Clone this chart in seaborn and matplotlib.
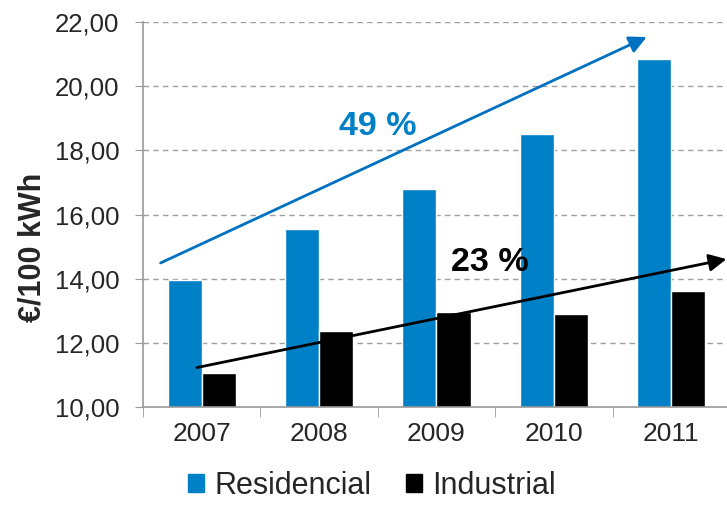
import matplotlib
matplotlib.use("Agg")
import matplotlib.pyplot as plt
import matplotlib.ticker as mticker
import seaborn as sns
import pandas as pd

# data
years = ["2007", "2008", "2009", "2010", "2011"]
residencial = [13.97, 15.56, 16.80, 18.50, 20.85]
industrial = [11.06, 12.37, 12.97, 12.90, 13.62]
series_names = ["Residencial", "Industrial"]
colors = ["#0080C6", "#000000"]
y_ticks = [10, 12, 14, 16, 18, 20, 22]

# trend arrows (data coords) and their labels
blue_arrow = [(-0.35, 14.49), (3.79, 21.53)]
black_arrow = [(-0.04, 11.23), (4.47, 14.61)]
blue_label = (1.5, 18.73, "49 %")
black_label = (2.45, 14.49, "23 %")

df = pd.DataFrame({
    "Ano": years * 2,
    "Valor": residencial + industrial,
    "Tipo": [series_names[0]] * len(years) + [series_names[1]] * len(years),
})

sns.set_style("white")
plt.rcParams["font.family"] = ["Liberation Sans", "DejaVu Sans"]

fig = plt.figure(figsize=(7.27, 5.05), dpi=100)
ax = fig.add_axes([143 / 727, 1 - 407 / 505, 587 / 727, 385 / 505])

sns.barplot(data=df, x="Ano", y="Valor", hue="Tipo", palette=colors,
            width=0.58, saturation=1, ax=ax, legend=False)

ax.set_ylim(10, 22)
ax.set_xlim(-0.5, 4.5)
ax.set_yticks(y_ticks)
ax.yaxis.set_major_formatter(mticker.FuncFormatter(lambda v, p: f"{v:.2f}".replace(".", ",")))
ax.set_xlabel("")
ax.set_ylabel("€/100 kWh", fontsize=22, fontweight="bold", va="center")
ax.yaxis.set_label_coords(-111 / 587, 0.415)

# dashed grid, gray left/bottom spines
for t in y_ticks[1:]:
    ax.axhline(t, color="#A0A0A0", linestyle=(0, (4, 3)), linewidth=1, zorder=0)
for side in ["top", "right"]:
    ax.spines[side].set_visible(False)
for side in ["left", "bottom"]:
    ax.spines[side].set_color("#999999")
    ax.spines[side].set_linewidth(1.2)

ax.tick_params(axis="y", which="major", length=6, color="#999999", left=True,
               labelsize=18.5, pad=11)
ax.tick_params(axis="x", which="major", length=0, labelsize=19, pad=11)
ax.set_xticks([i + 0.5 for i in range(-1, len(years))], minor=True)
ax.tick_params(axis="x", which="minor", length=7, color="#999999", bottom=True)

# trend arrows
ax.annotate("", xy=blue_arrow[1], xytext=blue_arrow[0], annotation_clip=False,
            arrowprops=dict(arrowstyle="-|>", color="#0070C0", lw=2,
                            mutation_scale=26, shrinkA=0, shrinkB=0))
ax.annotate("", xy=black_arrow[1], xytext=black_arrow[0], annotation_clip=False,
            arrowprops=dict(arrowstyle="-|>", color="black", lw=2,
                            mutation_scale=26, shrinkA=0, shrinkB=0))
ax.text(blue_label[0], blue_label[1], blue_label[2], color="#0080C6",
        fontsize=24.5, fontweight="bold", ha="center", va="center")
ax.text(black_label[0], black_label[1], black_label[2], color="black",
        fontsize=24.5, fontweight="bold", ha="center", va="center")

handles = [plt.Rectangle((0, 0), 1, 1, color=c) for c in colors]
fig.legend(handles, series_names, loc="center", bbox_to_anchor=(372 / 727, 1 - 486 / 505),
           ncol=2, frameon=False, fontsize=22, handlelength=0.53, handleheight=0.53,
           handletextpad=0.33, columnspacing=1.15, borderpad=0)

fig.savefig("out.png", dpi=100)
